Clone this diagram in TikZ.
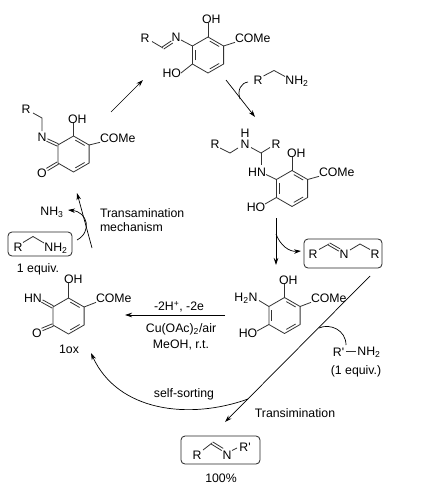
\documentclass[tikz,border=0pt]{standalone}
\usepackage{fontspec}
\setmainfont[Ligatures=TeXOff]{Liberation Sans}
\usetikzlibrary{calc,arrows.meta}
\tikzset{
  bond/.style={draw=black!80,line width=0.8pt},
  rxn/.style={draw=black,line width=0.7pt,-{Stealth[length=7pt,width=4.5pt]}},
  bent/.style={draw=black,line width=0.7pt},
  atom/.style={inner sep=0pt,outer sep=0pt,font=\fontsize{12.3}{12.3}\selectfont,text=black},
  txt/.style={inner sep=0pt,outer sep=0pt,font=\fontsize{12.3}{14}\selectfont,text=black,align=center},
  roundbox/.style={draw=black!85,line width=0.8pt,rounded corners=4pt}
}
\newcommand{\ringat}[3]{% name, x, y of centre
  \coordinate (#1a) at (#2,#3-18);
  \coordinate (#1b) at (#2+15.6,#3-9);
  \coordinate (#1c) at (#2+15.6,#3+9);
  \coordinate (#1d) at (#2,#3+18);
  \coordinate (#1e) at (#2-15.6,#3+9);
  \coordinate (#1f) at (#2-15.6,#3-9);
  \coordinate (#1o) at (#2,#3);
  \draw[bond,line join=round] (#1a)--(#1b)--(#1c)--(#1d)--(#1e)--(#1f)--cycle;
}
\newcommand{\innerb}[3]{% atom, atom, ring centre
  \draw[bond] ($($(#1)!.14!(#2)$)!.17!(#3)$) -- ($($(#2)!.14!(#1)$)!.17!(#3)$);
}
\newcommand{\aromatic}[1]{\innerb{#1e}{#1f}{#1o}\innerb{#1a}{#1b}{#1o}\innerb{#1c}{#1d}{#1o}}
\newcommand{\quinoid}[1]{\innerb{#1a}{#1b}{#1o}\innerb{#1c}{#1d}{#1o}}
\newcommand{\exob}[2]{% exocyclic double bond
  \draw[bond] ($(#1)!1.3pt!90:(#2)$) -- ($(#2)!1.3pt!-90:(#1)$);
  \draw[bond] ($(#1)!1.3pt!-90:(#2)$) -- ($(#2)!1.3pt!90:(#1)$);
}
\begin{document}
\begin{tikzpicture}[x=1pt,y=-1pt]
\useasboundingbox (0,0) rectangle (426,492);
\fill[white] (0,0) rectangle (426,492);

% ---- top imine
\ringat{A}{208}{55}\aromatic{A}
\node[atom] (Ar) at (145,38) {R};
\node[atom] (An) at (176,37) {N};
\node[atom,anchor=west] (Aoh) at (202,19) {OH};
\node[atom,anchor=west] (Aco) at (235,38) {COMe};
\node[atom,anchor=east] (Aho) at (181,73) {HO};
\coordinate (Ach) at (163,48);
\draw[bond] (152,41.5) -- (Ach);
\exob{Ach}{172,42}
\draw[bond] (181,40) -- (Af);
\draw[bond] (Aa) -- (Aa|-Aoh.south);
\draw[bond] (Ab) -- (Aco.south west);
\draw[bond] (Ae) -- (Aho.east);

% ---- left quinone imine
\ringat{B}{73.5}{154}\quinoid{B}
\node[atom] (Br) at (26,109) {R};
\node[atom] (Bn) at (42,137) {N};
\node[atom,anchor=west] (Boh) at (68,119) {OH};
\node[atom,anchor=west] (Bco) at (100,138) {COMe};
\node[atom] (Bo) at (42,173) {O};
\coordinate (Bch) at (42,118);
\draw[bond] (33,113) -- (Bch) -- (42,131);
\exob{47,140}{Bf}
\exob{47,169.5}{Be}
\draw[bond] (Ba) -- (Ba|-Boh.south);
\draw[bond] (Bb) -- (Bco.south west);

% ---- hemiaminal
\ringat{C}{292}{188.5}\aromatic{C}
\node[atom] (Crl) at (215,144) {R};
\node[atom] (Cn) at (245,144) {N};
\node[atom] (Ch) at (245,133) {H};
\node[atom] (Crr) at (276,144) {R};
\node[atom] (Chn) at (257,172) {HN};
\node[atom,anchor=west] (Coh) at (287,153) {OH};
\node[atom,anchor=west] (Cco) at (319,172) {COMe};
\node[atom] (Cho) at (256,207) {HO};
\coordinate (Cc1) at (230,153);
\coordinate (Cc2) at (261,153);
\draw[bond] (220,148) -- (Cc1) -- (238,148);
\draw[bond] (251,147.5) -- (Cc2) -- (270,147.5);
\draw[bond] (Cc2) -- (261,164.5);
\draw[bond] (Cf) -- (266,174.5);
\draw[bond] (Ca) -- (Ca|-Coh.south);
\draw[bond] (Cb) -- (Cco.south west);
\draw[bond] (Ce) -- (265,204);

% ---- reduced aminophenol
\ringat{D}{284.5}{315.5}\aromatic{D}
\node[atom] (Dnh) at (246,298) {H\textsubscript{2}N};
\node[atom,anchor=west] (Doh) at (279,280) {OH};
\node[atom,anchor=west] (Dco) at (311,298) {COMe};
\node[atom] (Dho) at (248,333) {HO};
\draw[bond] (Df) -- (259,300.5);
\draw[bond] (Da) -- (Da|-Doh.south);
\draw[bond] (Db) -- (Dco.south west);
\draw[bond] (De) -- (257,331);

% ---- 1ox
\ringat{E}{68.5}{316}\quinoid{E}
\node[atom] (Ehn) at (33,298) {HN};
\node[atom,anchor=west] (Eoh) at (64,279) {OH};
\node[atom,anchor=west] (Eco) at (96,298) {COMe};
\node[atom] (Eo) at (37,333) {O};
\node[atom] (Elab) at (69,349) {1ox};
\exob{42,301}{Ef}
\exob{42,329.5}{Ee}
\draw[bond] (Ea) -- (Ea|-Eoh.south);
\draw[bond] (Eb) -- (Eco.south west);

% ---- amine reagents
\node[atom] (Fr) at (258,80) {R};
\node[atom] (Fn) at (297,81) {NH\textsubscript{2}};
\draw[bond] (263.5,76) -- (274,70.5) -- (285,76.5);

% ---- boxed imine (by-product)
\draw[roundbox] (304,239) rectangle (382,268);
\node[atom] (Gr1) at (313,254) {R};
\node[atom] (Gn) at (344,254) {N};
\node[atom] (Gr2) at (375,254) {R};
\coordinate (Gc) at (329,244);
\coordinate (Gc2) at (360,244);
\draw[bond] (319,249.5) -- (Gc);
\exob{Gc}{339.5,250}
\draw[bond] (350,250) -- (Gc2) -- (370,249.5);

% ---- boxed amine
\draw[roundbox] (8,232) rectangle (72,256);
\node[atom] (Hr) at (18,247) {R};
\node[atom] (Hn) at (56,248) {NH\textsubscript{2}};
\coordinate (Hc) at (33,236.5);
\draw[bond] (23,242.5) -- (Hc) -- (44,243);
\node[txt] (Hlab) at (38,269) {1 equiv.};
\node[atom] (Hnh3) at (52,212) {NH\textsubscript{3}};

% ---- boxed product
\draw[roundbox] (181,436) rectangle (260,464);
\node[atom] (Kr) at (197,455) {R};
\node[atom] (Kn) at (227,455) {N};
\node[atom] (Kr2) at (245,447) {R'};
\coordinate (Kc) at (212,443);
\draw[bond] (203,450) -- (Kc);
\exob{Kc}{222.5,449.5}
\draw[bond] (232,450.5) -- (237,448);
\node[txt] (Klab) at (221,478) {100\%};

% ---- R'-NH2
\node[atom] (Lr) at (338.5,352) {R'};
\node[atom] (Ln) at (369,352) {NH\textsubscript{2}};
\draw[bond] (346,351) -- (355.5,351);
\node[txt] (Llab) at (356,371) {(1 equiv.)};

% ---- texts
\node[txt,anchor=west,align=left] (Tm) at (100,220) {Transamination\\mechanism};
\node[txt] (T1) at (179,307) {-2H\textsuperscript{+}, -2e};
\node[txt] (T2) at (181,329) {Cu(OAc)\textsubscript{2}/air};
\node[txt] (T3) at (181,345) {MeOH, r.t.};
\node[txt] (T4) at (184,394) {self-sorting};
\node[txt] (T5) at (295,413) {Transimination};

% ---- arrows
\coordinate (p1s) at (111,112); \coordinate (p1e) at (143,80);
\draw[rxn] (p1s) -- (p1e);
\coordinate (p2s) at (226,80); \coordinate (p2e) at (255,117);
\draw[rxn] (p2s) -- (p2e);
\coordinate (p2a) at (248,82); \coordinate (p2b) at (240,99);
\draw[bent] (p2a) .. controls (241,83) and (237,90) .. (p2b);
\coordinate (p3s) at (276,218); \coordinate (p3e) at (276,265);
\draw[rxn] (p3s) -- (p3e);
\coordinate (p3a) at (276,234); \coordinate (p3b) at (301,251);
\draw[rxn] (p3a) .. controls (280,245) and (289,252) .. (p3b);
\coordinate (p4s) at (225,315); \coordinate (p4e) at (125,315);
\draw[rxn] (p4s) -- (p4e);
\coordinate (p5s) at (370,276); \coordinate (p5e) at (225,422);
\draw[rxn] (p5s) -- (p5e);
\coordinate (p6a) at (319,328); \coordinate (p6b) at (346,345);
\draw[bent] (p6a) .. controls (330,323) and (346,330) .. (p6b);
\coordinate (p7s) at (248,399); \coordinate (p7e) at (91,353);
\draw[rxn] (p7s) .. controls (190,420) and (118,412) .. (p7e);
\coordinate (p8s) at (92,248); \coordinate (p8e) at (77,193);
\draw[rxn] (p8s) -- (p8e);
\coordinate (p9s) at (77,240); \coordinate (p9e) at (68,210);
\draw[rxn] (p9s) .. controls (92,232) and (88,212) .. (p9e);
\end{tikzpicture}
\end{document}
